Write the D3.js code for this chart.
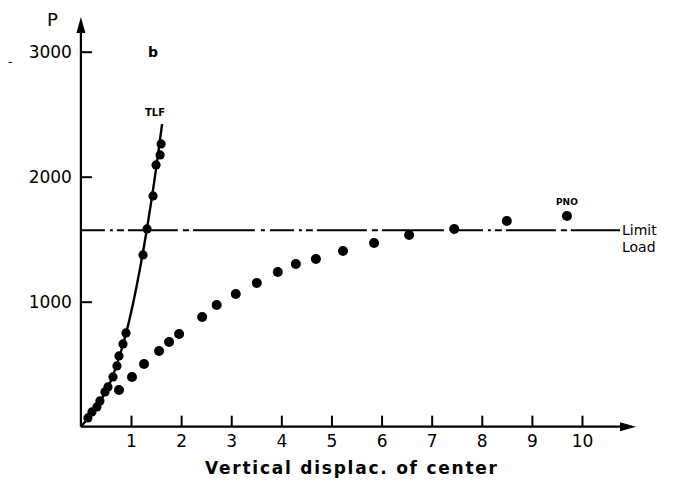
<!DOCTYPE html>
<html>
<head>
<meta charset="utf-8">
<script src="https://cdn.jsdelivr.net/npm/d3@7"></script>
<style>
  body { margin: 0; background: #fff; }
  svg { display: block; font-family: "DejaVu Sans", sans-serif; }
</style>
</head>
<body>
<div id="chart"></div>
<script>
var xTicks = [1, 2, 3, 4, 5, 6, 7, 8, 9, 10];
var yTicks = [1000, 2000, 3000];
var limitLoad = 1572;

// TLF measured points
var tlfX = [0.14, 0.22, 0.32, 0.38, 0.48, 0.54, 0.64, 0.72, 0.76, 0.84, 0.90, 1.24, 1.32, 1.44, 1.50, 1.58, 1.60];
var tlfY = [70, 118, 158, 206, 278, 318, 398, 486, 566, 662, 750, 1374, 1582, 1846, 2094, 2174, 2262];

// TLF fitted curve
var curveX = [0, 0.30, 0.60, 0.90, 1.10, 1.30, 1.50, 1.62];
var curveY = [0, 150, 370, 745, 1100, 1540, 2060, 2420];

// PNO measured points
var pnoX = [0.76, 1.02, 1.26, 1.56, 1.76, 1.96, 2.42, 2.71, 3.09, 3.51, 3.93, 4.29, 4.69, 5.23, 5.85, 6.55, 7.45, 8.50, 9.70];
var pnoY = [294, 398, 502, 606, 678, 742, 878, 974, 1062, 1150, 1238, 1302, 1342, 1406, 1470, 1534, 1582, 1646, 1686];

var W = 676, H = 481;
var svg = d3.select("#chart").append("svg")
    .attr("width", W)
    .attr("height", H);

var x = d3.scaleLinear().domain([0, 10]).range([80.9, 582]);
var y = d3.scaleLinear().domain([0, 3000]).range([426.7, 51.7]);

// axes lines with arrow heads
svg.append("line")
    .attr("x1", x(0)).attr("y1", y(0))
    .attr("x2", x(0)).attr("y2", 28)
    .attr("stroke", "#000").attr("stroke-width", 2.2);
svg.append("path")
    .attr("d", "M" + x(0) + ",17 L" + (x(0) - 4.5) + ",33 L" + (x(0) + 4.5) + ",33 Z")
    .attr("fill", "#000");
svg.append("line")
    .attr("x1", x(0)).attr("y1", y(0))
    .attr("x2", 624).attr("y2", y(0))
    .attr("stroke", "#000").attr("stroke-width", 2.2);
svg.append("path")
    .attr("d", "M636," + y(0) + " L620," + (y(0) - 4.5) + " L620," + (y(0) + 4.5) + " Z")
    .attr("fill", "#000");

var xAxis = svg.append("g")
    .attr("transform", "translate(0," + y(0) + ")")
    .call(d3.axisBottom(x).tickValues(xTicks).tickSizeInner(-11).tickSizeOuter(0).tickPadding(8));
var yAxis = svg.append("g")
    .attr("transform", "translate(" + x(0) + ",0)")
    .call(d3.axisLeft(y).tickValues(yTicks).tickFormat(d3.format("d"))
        .tickSizeInner(-11).tickSizeOuter(0).tickPadding(9));

[xAxis, yAxis].forEach(function(g) {
    g.select(".domain").remove();
    g.selectAll(".tick line").attr("stroke", "#000").attr("stroke-width", 2);
    g.selectAll(".tick text")
        .attr("fill", "#000")
        .style("font-size", "17px")
        .style("font-family", "DejaVu Sans, sans-serif");
});

// limit load line
svg.append("line")
    .attr("x1", x(0)).attr("x2", 620)
    .attr("y1", y(limitLoad)).attr("y2", y(limitLoad))
    .attr("stroke", "#000").attr("stroke-width", 2)
    .attr("stroke-dasharray", "24,5,3,4,7,4,50,5,6,4,62,6,4,5");

// TLF curve
var line = d3.line()
    .x(function(d) { return x(d[0]); })
    .y(function(d) { return y(d[1]); })
    .curve(d3.curveMonotoneX);
svg.append("path")
    .datum(d3.zip(curveX, curveY))
    .attr("d", line)
    .attr("fill", "none")
    .attr("stroke", "#000")
    .attr("stroke-width", 2.4);

svg.append("g").selectAll("circle")
    .data(d3.zip(tlfX, tlfY))
    .enter().append("circle")
    .attr("cx", function(d) { return x(d[0]); })
    .attr("cy", function(d) { return y(d[1]); })
    .attr("r", 4.6)
    .attr("fill", "#000");

svg.append("g").selectAll("circle")
    .data(d3.zip(pnoX, pnoY))
    .enter().append("circle")
    .attr("cx", function(d) { return x(d[0]); })
    .attr("cy", function(d) { return y(d[1]); })
    .attr("r", 5)
    .attr("fill", "#000");

// labels
svg.append("text").attr("x", 47).attr("y", 26)
    .style("font-size", "18px").text("P");
svg.append("text").attr("x", 8).attr("y", 66)
    .style("font-size", "12px").text("-");
svg.append("text").attr("x", 148).attr("y", 57)
    .style("font-size", "14px").style("font-weight", "bold").text("b");
svg.append("text").attr("x", 145).attr("y", 116)
    .style("font-size", "10px").style("font-weight", "bold").text("TLF");
svg.append("text").attr("x", 556).attr("y", 205)
    .style("font-size", "9px").style("font-weight", "bold").text("PNO");
svg.append("text").attr("x", 622).attr("y", 235)
    .style("font-size", "14px").text("Limit");
svg.append("text").attr("x", 622).attr("y", 252)
    .style("font-size", "14px").text("Load");
svg.append("text").attr("x", 205).attr("y", 474)
    .attr("textLength", 292).attr("lengthAdjust", "spacing")
    .style("font-size", "17px").style("font-weight", "bold")
    .text("Vertical displac. of center");
</script>
</body>
</html>
